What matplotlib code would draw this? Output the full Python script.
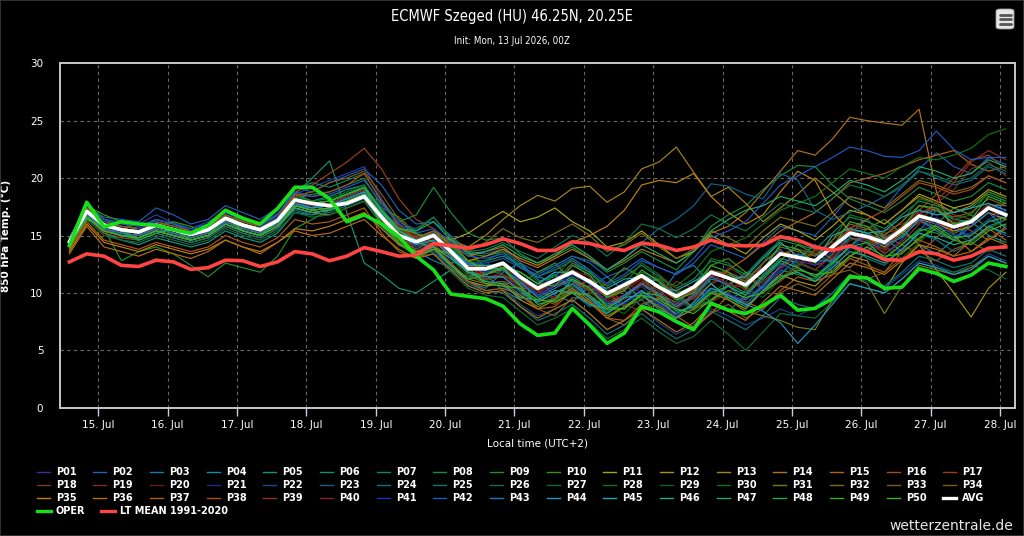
# ECMWF ensemble plume, 850 hPa temperature, Szeged
import pandas as pd
import numpy as np
import matplotlib

matplotlib.use("Agg")
import matplotlib.pyplot as plt
import matplotlib.dates as mdates
from matplotlib.lines import Line2D
from matplotlib.patches import FancyBboxPatch, Rectangle

# 6-hourly steps, local time (UTC+2)
times = pd.date_range("2026-07-14 14:00", periods=55, freq="6h")

avg = [14.45, 17.1, 15.9, 15.5, 15.3, 15.9, 15.5, 15.1, 15.5, 16.5, 15.9, 15.5, 16.3,
       18.1, 17.8, 17.6, 17.8, 18.4, 16.6, 15.0, 14.45, 15.0, 13.6, 12.1, 12.1,
       12.6, 11.4, 10.4, 11.1, 11.8, 11.0, 9.95, 10.7, 11.5, 10.5, 9.7, 10.5, 11.8, 11.3, 10.7, 12.0,
       13.4, 13.1, 12.8, 14.0, 15.2, 14.9, 14.4, 15.5, 16.7, 16.3, 15.75, 16.2, 17.4, 16.8]

oper = [14.15, 17.9, 15.75, 16.2, 16.0, 15.9, 15.5, 15.2, 15.9, 17.2, 16.5, 16.0, 17.35,
        19.2, 19.2, 18.2, 16.2, 16.8, 16.0, 14.9, 13.2, 12.0, 9.9, 9.7, 9.5,
        8.85, 7.3, 6.3, 6.5, 8.65, 7.2, 5.6, 6.5, 8.8, 8.35, 7.5, 6.8, 9.1, 8.5, 8.2, 8.9,
        9.8, 8.5, 8.65, 9.5, 11.4, 11.3, 10.4, 10.5, 12.1, 11.7, 11.0, 11.55, 12.6, 12.3]

lt_mean = [12.7, 13.4, 13.2, 12.4, 12.3, 12.85, 12.7, 12.05, 12.2, 12.85, 12.8, 12.3, 12.7,
           13.6, 13.4, 12.8, 13.2, 13.95, 13.6, 13.2, 13.3, 14.3, 14.1, 13.9, 14.2,
           14.7, 14.3, 13.7, 13.7, 14.45, 14.3, 13.9, 13.7, 14.35, 14.15, 13.7, 14.0, 14.6, 14.15, 14.1, 14.15,
           14.9, 14.6, 14.0, 13.7, 14.1, 13.6, 12.9, 12.85, 13.6, 13.4, 12.85, 13.2, 13.9, 14.0]

member_names = ["P%02d" % k for k in range(1, 51)]

members = [
    # P01
    [14.8, 17.6, 16.4, 16.2, 16.0, 16.8, 16.1, 15.6, 16.2, 17.0, 16.3, 16.0, 16.9,
     18.6, 19.2, 19.8, 20.4, 21.0, 18.2, 16.0, 14.6, 14.2, 13.0, 11.8, 11.2,
     11.6, 10.6, 10.0, 10.8, 11.2, 9.6, 8.8, 9.8, 10.6, 9.2, 8.6, 9.6, 10.4, 9.8, 9.4, 11.6,
     12.8, 12.2, 11.4, 12.6, 14.8, 14.6, 13.4, 14.6, 16.6, 16.4, 15.2, 15.8, 17.8, 17.0],
    # P02
    [14.6, 17.4, 16.6, 16.4, 16.2, 17.4, 16.8, 16.0, 16.4, 17.6, 17.0, 16.4, 17.4,
     19.2, 18.8, 19.6, 20.2, 20.8, 19.4, 17.2, 16.0, 16.2, 15.0, 13.6, 13.4,
     13.8, 12.6, 11.8, 12.4, 13.2, 12.6, 11.4, 12.0, 13.0, 12.2, 11.6, 12.6, 14.2, 13.6, 13.0, 14.4,
     15.8, 15.4, 15.0, 16.6, 18.4, 18.0, 17.4, 19.2, 20.8, 22.2, 21.0, 20.4, 21.8, 21.2],
    # P03
    [14.2, 16.8, 15.6, 15.0, 14.8, 15.6, 15.2, 14.8, 15.4, 16.4, 15.8, 15.4, 16.2,
     18.0, 17.6, 17.2, 17.8, 18.4, 17.2, 15.8, 13.6, 12.8, 12.2, 11.0, 10.4,
     11.8, 12.6, 11.2, 9.8, 9.2, 10.6, 11.4, 10.2, 8.8, 9.6, 11.8, 12.4, 10.8, 9.4, 10.2, 12.6,
     13.8, 12.2, 11.4, 12.8, 15.2, 16.4, 14.8, 13.6, 15.4, 17.2, 16.0, 14.6, 15.8, 16.4],
    # P04
    [14.4, 17.2, 16.0, 15.8, 15.6, 16.4, 16.0, 15.4, 15.8, 16.8, 16.0, 15.6, 16.6,
     18.6, 18.0, 18.4, 19.0, 19.4, 17.0, 15.2, 14.6, 15.2, 13.6, 12.4, 12.8,
     13.2, 12.4, 11.4, 11.0, 12.6, 11.8, 10.2, 10.4, 11.6, 11.0, 9.8, 10.0, 11.8, 11.8, 11.0, 12.0,
     13.4, 13.8, 13.4, 13.8, 15.2, 15.6, 14.8, 15.4, 17.0, 17.2, 16.4, 16.2, 17.6, 17.6],
    # P05
    [14.0, 16.6, 15.2, 14.6, 14.2, 14.8, 14.4, 14.0, 14.4, 15.4, 14.8, 14.4, 15.2,
     17.0, 16.8, 17.4, 18.0, 18.6, 16.2, 15.6, 14.8, 13.4, 12.6, 12.8, 11.6,
     10.2, 9.4, 10.8, 11.6, 10.4, 9.0, 8.2, 9.6, 10.8, 11.2, 9.8, 8.6, 9.4, 10.6, 11.8, 10.4,
     11.6, 13.0, 14.2, 12.8, 12.2, 13.6, 14.8, 15.6, 14.2, 13.4, 14.6, 16.2, 15.0, 14.4],
    # P06
    [13.8, 16.8, 15.8, 15.2, 15.0, 15.6, 15.2, 14.8, 15.2, 16.2, 15.6, 15.2, 16.0,
     18.6, 20.0, 21.5, 17.0, 12.6, 11.6, 10.4, 10.0, 11.0, 12.0, 11.4, 11.8,
     12.0, 10.8, 9.8, 10.6, 11.4, 10.4, 9.0, 9.8, 10.8, 9.6, 8.8, 9.6, 11.2, 10.8, 10.0, 11.6,
     13.0, 12.6, 12.0, 13.4, 14.8, 14.4, 13.8, 15.0, 16.2, 15.8, 15.2, 15.8, 17.0, 16.4],
    # P07
    [14.6, 17.8, 16.4, 15.8, 15.6, 16.2, 15.8, 15.4, 15.8, 16.8, 16.2, 15.8, 16.8,
     19.0, 19.6, 19.2, 19.8, 20.4, 18.0, 16.2, 15.4, 16.6, 14.8, 13.4, 13.2,
     13.6, 12.2, 11.4, 12.0, 12.8, 11.8, 10.6, 11.4, 12.4, 11.4, 10.4, 11.2, 12.8, 12.4, 11.6, 13.2,
     14.6, 14.2, 13.8, 15.2, 16.6, 16.2, 15.6, 16.8, 18.0, 17.6, 17.0, 17.4, 18.6, 18.0],
    # P08
    [14.2, 17.0, 15.8, 15.4, 15.2, 15.8, 15.4, 15.0, 15.4, 16.4, 15.8, 15.4, 16.2,
     18.2, 18.6, 18.8, 19.4, 20.0, 17.6, 16.2, 16.8, 19.2, 17.0, 15.2, 14.6,
     14.8, 13.4, 12.6, 13.2, 14.0, 13.0, 11.8, 12.6, 13.6, 12.8, 12.0, 13.6, 15.8, 16.8, 17.6, 19.0,
     20.2, 21.1, 21.0, 19.4, 18.2, 17.6, 17.0, 18.0, 19.2, 18.6, 18.0, 18.4, 19.6, 19.0],
    # P09
    [14.0, 17.4, 15.6, 12.8, 13.6, 14.0, 13.4, 12.4, 11.4, 12.6, 12.2, 11.8, 13.2,
     15.6, 16.4, 17.2, 18.4, 19.2, 17.2, 15.4, 14.2, 14.6, 13.2, 11.8, 11.2,
     11.4, 10.0, 9.2, 10.0, 10.6, 9.6, 8.4, 9.2, 10.2, 9.0, 8.0, 8.8, 10.2, 9.6, 9.0, 10.6,
     12.0, 11.6, 11.2, 12.6, 14.0, 13.6, 13.0, 14.2, 15.6, 15.2, 14.6, 15.2, 16.4, 15.8],
    # P10
    [14.8, 17.6, 16.8, 16.2, 15.4, 15.8, 16.2, 15.8, 15.2, 16.4, 16.6, 15.8, 16.2,
     18.4, 18.0, 17.6, 18.2, 18.8, 17.4, 16.6, 15.2, 14.0, 14.8, 13.6, 12.2,
     11.6, 10.8, 11.8, 12.6, 11.0, 10.2, 10.8, 12.2, 11.4, 9.8, 9.2, 10.6, 12.4, 13.0, 11.8, 11.2,
     12.8, 14.2, 13.4, 12.6, 14.0, 15.6, 16.4, 15.2, 14.6, 16.0, 17.4, 16.8, 15.6, 16.4],
    # P11
    [14.2, 16.8, 15.6, 15.2, 15.0, 15.6, 15.2, 14.8, 15.2, 16.2, 15.6, 15.2, 16.0,
     17.6, 17.4, 17.8, 18.4, 19.0, 17.0, 15.0, 14.4, 15.0, 14.6, 15.2, 16.2,
     17.1, 16.2, 16.6, 17.4, 16.2, 15.4, 14.0, 14.4, 15.4, 14.2, 13.0, 13.6, 15.0, 14.2, 13.4, 14.8,
     16.0, 15.4, 14.6, 15.8, 17.2, 16.8, 16.0, 17.2, 18.6, 18.0, 17.4, 17.8, 19.0, 18.4],
    # P12
    [14.0, 16.6, 15.4, 15.0, 14.8, 15.4, 15.0, 14.6, 15.0, 16.0, 15.4, 15.0, 15.8,
     17.4, 17.0, 16.8, 17.4, 18.0, 16.0, 14.2, 13.4, 13.8, 12.4, 11.0, 10.6,
     10.8, 9.4, 8.6, 9.4, 10.2, 9.2, 7.8, 8.8, 9.8, 8.8, 7.8, 8.6, 10.0, 9.4, 8.6, 10.2,
     11.6, 11.0, 10.6, 12.0, 13.2, 12.8, 10.2, 12.6, 14.2, 12.0, 10.0, 7.9, 10.4, 11.8],
    # P13
    [14.4, 17.0, 15.8, 15.4, 15.2, 15.8, 15.4, 15.0, 15.4, 16.4, 15.8, 15.4, 16.2,
     17.8, 17.4, 17.6, 18.2, 18.8, 16.8, 15.2, 14.8, 15.4, 14.6, 14.0, 15.0,
     16.4, 17.6, 18.5, 18.0, 19.1, 19.3, 17.9, 18.8, 20.8, 21.4, 22.7, 20.5, 18.4, 19.2, 17.8, 16.2,
     17.4, 18.6, 20.0, 18.8, 17.6, 16.8, 16.0, 17.2, 18.4, 17.8, 17.0, 17.6, 18.8, 18.2],
    # P14
    [14.6, 17.2, 16.0, 15.6, 15.4, 16.0, 15.6, 15.2, 15.6, 16.6, 16.0, 15.6, 16.4,
     18.0, 17.6, 17.8, 18.4, 19.0, 17.0, 15.4, 14.8, 15.4, 14.2, 13.2, 13.6,
     14.0, 12.8, 12.2, 13.0, 13.8, 13.0, 12.0, 12.8, 13.8, 13.2, 12.6, 13.6, 15.2, 15.8, 17.0, 18.8,
     20.6, 22.4, 22.0, 23.4, 25.3, 25.0, 24.8, 24.6, 26.0, 18.8, 15.0, 13.6, 14.6, 15.6],
    # P15
    [14.2, 16.8, 15.6, 15.2, 15.0, 15.6, 15.2, 14.8, 15.2, 16.2, 15.6, 15.2, 16.0,
     17.6, 17.2, 17.4, 18.0, 18.6, 16.6, 14.8, 14.0, 14.6, 13.2, 11.8, 11.6,
     12.0, 10.6, 9.8, 10.6, 11.2, 10.2, 8.8, 9.8, 10.8, 9.8, 8.8, 9.8, 11.4, 12.0, 13.0, 14.2,
     15.4, 16.2, 17.0, 18.2, 19.6, 20.0, 20.4, 21.0, 21.6, 22.0, 22.4, 21.2, 20.6, 21.0],
    # P16
    [14.0, 16.6, 15.2, 14.8, 14.6, 15.2, 14.8, 14.4, 14.8, 15.8, 15.2, 14.8, 15.6,
     17.4, 17.0, 17.2, 17.8, 18.4, 16.8, 15.2, 14.6, 15.4, 14.0, 12.4, 11.6,
     12.2, 11.0, 9.6, 9.0, 10.4, 11.2, 10.0, 8.8, 9.4, 10.8, 10.2, 8.6, 9.2, 10.8, 11.6, 10.2,
     11.0, 12.4, 13.8, 13.0, 12.2, 13.6, 15.0, 14.2, 13.4, 14.8, 16.2, 15.4, 14.6, 15.8],
    # P17
    [14.4, 17.0, 15.8, 15.4, 15.2, 15.8, 15.4, 15.0, 15.4, 16.4, 15.8, 15.4, 16.2,
     18.8, 19.4, 20.4, 21.4, 22.6, 20.8, 18.2, 16.4, 15.6, 14.4, 12.8, 12.2,
     12.6, 11.2, 10.4, 11.0, 11.8, 10.8, 9.6, 10.4, 11.4, 10.4, 9.4, 10.2, 11.8, 11.4, 10.6, 12.2,
     13.6, 13.2, 12.8, 14.2, 15.6, 15.2, 14.6, 15.8, 17.2, 18.6, 20.0, 21.6, 22.0, 20.8],
    # P18
    [14.8, 17.4, 16.2, 15.8, 15.6, 16.2, 15.8, 15.4, 15.8, 16.8, 16.2, 15.8, 16.6,
     18.2, 17.8, 18.0, 18.6, 19.2, 17.2, 15.6, 14.8, 15.2, 14.0, 12.6, 12.4,
     12.4, 11.8, 10.8, 11.0, 12.6, 11.4, 9.6, 10.2, 11.8, 11.2, 9.8, 10.0, 11.6, 11.8, 11.2, 12.0,
     13.4, 13.8, 13.4, 14.0, 15.4, 15.8, 15.2, 15.6, 17.0, 17.4, 16.8, 16.4, 17.6, 17.8],
    # P19
    [14.2, 16.6, 15.4, 15.0, 14.8, 15.4, 15.0, 14.6, 15.0, 16.0, 15.4, 15.0, 15.8,
     17.6, 17.2, 17.4, 18.0, 18.6, 17.0, 16.0, 14.4, 13.8, 13.2, 12.6, 11.0,
     10.6, 11.4, 10.2, 9.4, 10.0, 11.2, 10.6, 9.0, 8.4, 9.6, 11.0, 10.4, 9.2, 10.0, 11.4, 12.2,
     11.4, 12.2, 13.6, 14.4, 13.2, 14.0, 15.4, 16.0, 16.8, 17.8, 19.0, 20.8, 21.4, 20.2],
    # P20
    [14.6, 17.2, 16.0, 15.6, 15.4, 16.0, 15.6, 15.2, 15.6, 16.6, 16.0, 15.6, 16.4,
     18.0, 17.6, 17.8, 18.4, 19.0, 16.4, 14.6, 14.0, 14.8, 13.8, 12.6, 12.0,
     12.6, 11.4, 10.2, 10.6, 12.0, 11.4, 9.8, 9.4, 10.6, 11.6, 10.4, 9.4, 10.8, 12.2, 11.4, 10.8,
     12.2, 13.4, 12.8, 14.6, 15.8, 14.6, 13.8, 15.6, 17.0, 16.2, 15.2, 16.4, 17.8, 16.6],
    # P21
    [14.4, 16.8, 15.4, 15.8, 15.0, 15.4, 15.8, 15.2, 15.0, 16.2, 16.0, 15.2, 15.8,
     17.8, 17.4, 17.6, 18.2, 18.8, 17.6, 16.2, 15.6, 14.0, 12.8, 12.4, 12.8,
     11.4, 10.0, 10.8, 11.8, 10.6, 9.4, 9.8, 11.0, 10.0, 8.8, 9.2, 10.4, 11.6, 10.6, 9.4, 10.8,
     12.0, 13.4, 12.6, 12.0, 13.8, 15.0, 14.0, 13.6, 15.2, 16.6, 15.6, 15.0, 16.2, 16.8],
    # P22
    [14.2, 16.8, 15.6, 15.2, 15.0, 15.6, 15.2, 14.8, 15.2, 16.2, 15.6, 15.2, 16.0,
     17.6, 17.2, 17.4, 18.0, 18.6, 16.2, 14.4, 13.4, 13.6, 12.0, 10.6, 10.2,
     10.4, 9.0, 8.0, 8.6, 9.4, 8.2, 6.8, 7.6, 8.6, 7.4, 6.4, 7.2, 8.6, 8.0, 7.2, 7.8,
     8.6, 8.0, 8.8, 10.0, 11.4, 11.0, 10.4, 11.6, 12.8, 12.4, 11.8, 12.2, 13.4, 12.8],
    # P23
    [14.6, 17.2, 16.0, 15.6, 15.4, 16.0, 15.6, 15.2, 15.6, 16.6, 16.0, 15.6, 16.4,
     18.2, 17.8, 18.0, 18.6, 19.2, 17.2, 15.4, 14.6, 15.0, 13.8, 12.6, 12.6,
     13.0, 12.2, 11.6, 12.4, 13.2, 12.8, 12.0, 13.0, 14.4, 15.6, 16.4, 17.6, 19.5, 19.3, 18.6, 18.2,
     20.4, 19.8, 17.2, 16.4, 17.0, 17.6, 18.4, 19.2, 20.6, 20.0, 19.4, 19.8, 21.0, 20.4],
    # P24
    [14.2, 16.8, 15.4, 15.0, 14.6, 15.2, 14.8, 14.4, 14.8, 15.8, 15.2, 14.8, 15.6,
     17.4, 17.0, 17.2, 17.8, 18.4, 15.8, 14.2, 13.6, 14.4, 13.6, 12.0, 10.8,
     10.6, 9.6, 10.4, 11.6, 10.0, 8.8, 9.6, 10.8, 9.4, 8.2, 9.0, 10.6, 9.2, 8.4, 9.8, 11.2,
     12.6, 11.8, 11.0, 12.4, 14.2, 13.0, 12.4, 13.8, 15.2, 14.6, 13.6, 14.4, 15.8, 15.0],
    # P25
    [14.0, 16.6, 15.4, 15.0, 14.8, 15.4, 15.0, 14.6, 15.0, 16.0, 15.4, 15.0, 15.8,
     17.2, 16.8, 17.0, 17.6, 18.2, 16.2, 14.4, 13.4, 13.8, 12.2, 10.8, 10.2,
     10.0, 8.8, 7.6, 8.2, 9.0, 7.8, 6.4, 7.2, 8.2, 7.0, 6.0, 6.8, 8.4, 7.6, 6.8, 8.0,
     9.6, 9.0, 8.6, 10.0, 11.6, 11.2, 10.6, 11.8, 13.2, 12.8, 12.2, 12.6, 13.8, 13.2],
    # P26
    [14.4, 17.0, 15.8, 15.4, 15.2, 15.8, 15.4, 15.0, 15.4, 16.4, 15.8, 15.4, 16.2,
     17.8, 17.6, 17.8, 18.4, 19.0, 17.0, 15.4, 15.6, 16.6, 14.8, 13.6, 13.8,
     14.4, 13.6, 13.0, 14.0, 15.0, 14.4, 13.2, 14.4, 16.0, 15.6, 14.8, 15.6, 16.8, 16.0, 15.4, 16.6,
     17.8, 17.4, 17.0, 18.2, 19.4, 19.0, 18.4, 19.4, 20.6, 20.2, 19.6, 20.0, 21.2, 20.6],
    # P27
    [13.8, 16.4, 15.0, 14.6, 14.4, 15.0, 14.6, 14.2, 14.6, 15.6, 15.0, 14.6, 15.4,
     17.0, 16.6, 16.8, 17.4, 18.0, 16.0, 14.2, 13.2, 13.4, 11.8, 10.4, 9.8,
     9.6, 8.4, 7.2, 7.8, 8.6, 7.4, 6.0, 6.8, 7.8, 6.6, 5.6, 6.2, 7.6, 6.4, 5.0, 6.6,
     8.2, 8.0, 7.8, 9.2, 10.8, 10.4, 10.0, 11.2, 12.6, 12.2, 11.8, 12.4, 12.0, 11.2],
    # P28
    [14.6, 17.4, 16.2, 15.8, 15.6, 16.2, 15.8, 15.4, 15.8, 16.8, 16.2, 15.8, 16.6,
     18.4, 18.0, 18.2, 18.8, 19.4, 17.4, 15.6, 14.8, 15.2, 14.0, 12.8, 12.8,
     13.6, 12.4, 11.0, 11.4, 13.0, 12.0, 10.0, 10.8, 12.6, 11.6, 10.0, 10.6, 13.0, 12.6, 11.2, 12.6,
     14.8, 14.4, 13.2, 14.6, 16.8, 16.4, 15.0, 16.2, 18.2, 17.8, 16.4, 16.8, 18.8, 18.2],
    # P29
    [14.2, 16.8, 15.6, 15.2, 15.0, 15.6, 15.2, 14.8, 15.2, 16.2, 15.6, 15.2, 16.0,
     17.6, 17.4, 17.6, 18.2, 18.8, 16.2, 15.4, 14.8, 14.0, 13.0, 11.4, 11.0,
     12.0, 11.2, 9.8, 9.2, 10.6, 10.2, 8.8, 8.2, 9.6, 10.8, 9.6, 8.4, 9.8, 11.2, 10.4, 9.6,
     11.2, 12.6, 12.0, 11.6, 13.2, 14.6, 14.0, 13.0, 14.4, 15.8, 15.2, 14.4, 15.6, 16.4],
    # P30
    [14.4, 17.0, 15.8, 15.4, 15.2, 15.8, 15.4, 15.0, 15.4, 16.4, 15.8, 15.4, 16.2,
     18.0, 17.8, 18.0, 18.6, 19.2, 17.2, 15.4, 14.6, 15.0, 13.6, 12.2, 12.0,
     12.4, 11.2, 10.2, 11.0, 11.8, 10.8, 9.6, 10.6, 11.8, 11.2, 10.6, 11.8, 13.6, 14.2, 14.8, 16.0,
     17.2, 17.8, 18.4, 19.6, 20.8, 20.4, 20.0, 21.0, 21.8, 21.6, 22.0, 22.6, 23.8, 24.3],
    # P31
    [14.0, 16.6, 15.4, 15.0, 14.8, 15.4, 15.0, 14.6, 15.0, 16.0, 15.4, 15.0, 15.8,
     17.4, 17.0, 17.2, 17.8, 18.4, 16.4, 14.6, 13.6, 14.0, 12.6, 11.2, 10.8,
     11.0, 9.8, 8.8, 9.6, 10.4, 9.4, 8.0, 8.8, 9.8, 8.8, 7.8, 8.6, 10.0, 9.4, 8.4, 8.0,
     7.6, 7.0, 6.8, 9.4, 11.6, 10.8, 8.2, 10.6, 12.4, 12.0, 11.6, 12.2, 13.2, 12.6],
    # P32
    [14.6, 17.2, 16.0, 15.6, 15.4, 16.0, 15.6, 15.2, 15.6, 16.6, 16.0, 15.6, 16.4,
     18.2, 17.8, 18.0, 18.6, 19.2, 17.2, 15.4, 14.8, 15.2, 14.4, 13.6, 14.4,
     15.6, 14.8, 14.4, 15.2, 16.0, 15.0, 13.6, 14.2, 15.2, 14.0, 13.0, 13.8, 15.4, 14.8, 14.0, 15.4,
     16.6, 16.2, 15.8, 17.0, 18.4, 18.0, 17.4, 18.6, 19.8, 19.4, 18.8, 19.2, 20.2, 19.6],
    # P33
    [14.2, 16.8, 15.6, 15.2, 15.0, 15.6, 15.2, 14.8, 15.2, 16.2, 15.6, 15.2, 16.0,
     17.6, 17.2, 17.4, 18.0, 18.6, 16.4, 14.6, 13.8, 14.6, 13.4, 11.6, 10.8,
     11.0, 10.4, 8.6, 8.0, 9.6, 9.4, 7.8, 7.2, 8.6, 9.0, 7.6, 6.8, 8.2, 9.0, 7.8, 8.6,
     10.0, 10.8, 10.2, 11.6, 12.0, 11.2, 11.8, 13.0, 13.6, 12.8, 13.8, 14.4, 13.6, 14.2],
    # P34
    [14.6, 17.2, 16.0, 15.6, 15.4, 16.0, 15.6, 15.2, 15.6, 16.6, 16.0, 15.6, 16.4,
     18.4, 18.8, 19.6, 20.0, 20.6, 18.6, 16.4, 15.0, 15.2, 13.8, 12.4, 12.2,
     12.6, 11.4, 10.4, 11.2, 12.0, 11.0, 9.8, 10.6, 11.6, 10.6, 9.6, 10.4, 12.0, 11.6, 11.0, 12.6,
     14.0, 13.6, 13.2, 14.6, 16.0, 15.6, 15.0, 16.2, 17.6, 17.2, 16.6, 17.0, 18.2, 17.6],
    # P35
    [13.6, 16.0, 14.4, 14.0, 13.6, 14.2, 13.8, 13.4, 13.8, 14.6, 14.0, 13.6, 14.4,
     15.6, 15.4, 15.8, 16.4, 17.0, 15.6, 14.2, 13.6, 14.0, 13.4, 12.8, 13.2,
     13.8, 13.0, 12.4, 13.2, 14.4, 15.0, 15.8, 17.2, 19.4, 19.8, 19.6, 20.4, 18.4, 17.0, 16.0, 16.8,
     18.8, 20.6, 19.8, 17.0, 15.4, 14.8, 14.0, 15.2, 16.4, 16.0, 15.4, 15.8, 17.0, 16.4],
    # P36
    [13.4, 15.8, 14.0, 13.6, 13.2, 13.8, 13.4, 13.0, 13.6, 14.6, 14.0, 13.4, 14.4,
     15.4, 15.0, 15.2, 15.8, 16.4, 15.0, 13.8, 13.0, 13.4, 12.0, 10.6, 10.0,
     10.2, 8.8, 7.8, 8.6, 9.4, 8.2, 6.8, 7.6, 8.6, 7.6, 6.6, 7.4, 9.0, 8.4, 7.6, 9.2,
     10.6, 10.2, 9.8, 11.2, 12.6, 12.2, 11.6, 12.8, 14.2, 13.8, 13.2, 13.6, 14.8, 14.2],
    # P37
    [13.8, 16.2, 14.6, 14.2, 13.8, 14.4, 14.0, 13.6, 14.0, 15.0, 14.4, 14.0, 14.8,
     16.4, 16.0, 16.2, 16.8, 17.4, 15.2, 13.6, 13.0, 13.8, 12.6, 11.0, 10.2,
     10.4, 9.8, 8.6, 8.8, 10.2, 9.2, 7.8, 7.6, 9.0, 9.6, 8.0, 7.0, 8.2, 9.8, 9.2, 8.6,
     10.2, 11.4, 11.0, 11.6, 13.0, 12.4, 11.8, 13.6, 14.6, 14.0, 13.2, 14.6, 15.6, 14.6],
    # P38
    [14.8, 17.4, 16.2, 15.8, 15.6, 16.2, 15.8, 15.4, 15.8, 16.8, 16.2, 15.8, 16.6,
     18.6, 18.4, 18.8, 19.4, 20.4, 18.0, 15.8, 14.8, 15.0, 13.6, 12.2, 12.0,
     12.4, 11.2, 10.2, 11.0, 11.8, 10.8, 9.6, 10.4, 11.4, 10.4, 9.4, 10.2, 11.8, 11.2, 10.6, 12.2,
     13.6, 13.2, 12.8, 14.2, 15.6, 16.4, 17.2, 18.4, 19.6, 19.2, 18.6, 19.0, 20.2, 19.6],
    # P39
    [14.2, 16.8, 15.6, 15.2, 15.0, 15.6, 15.2, 14.8, 15.2, 16.2, 15.6, 15.2, 16.0,
     17.8, 17.4, 17.6, 18.2, 18.8, 17.2, 15.6, 14.8, 14.2, 13.8, 12.4, 11.2,
     11.4, 11.0, 10.2, 9.6, 10.8, 10.6, 9.2, 9.8, 11.0, 10.2, 9.0, 9.6, 10.8, 11.4, 10.2, 11.0,
     12.2, 13.2, 12.4, 13.0, 14.6, 14.8, 13.4, 14.4, 16.0, 18.0, 19.6, 21.4, 22.4, 21.6],
    # P40
    [14.6, 17.2, 16.0, 15.6, 15.4, 16.0, 15.6, 15.2, 15.6, 16.6, 16.0, 15.6, 16.4,
     18.0, 17.6, 17.8, 18.4, 19.0, 16.6, 15.8, 15.0, 14.2, 13.2, 12.6, 11.4,
     11.6, 10.4, 10.6, 11.2, 11.8, 10.0, 9.4, 10.2, 11.2, 9.4, 8.6, 10.0, 11.6, 10.8, 10.4, 12.0,
     13.6, 12.8, 12.0, 13.2, 15.4, 14.2, 13.6, 15.6, 16.2, 15.6, 16.4, 15.8, 17.0, 16.8],
    # P41
    [14.4, 17.0, 16.2, 15.0, 15.6, 16.2, 15.0, 15.4, 15.8, 16.0, 15.4, 15.8, 16.6,
     17.8, 17.4, 17.6, 18.2, 18.8, 17.0, 15.4, 14.0, 14.6, 13.4, 12.2, 11.8,
     12.6, 11.0, 9.8, 10.6, 11.6, 10.8, 9.2, 9.0, 10.2, 9.0, 8.0, 8.8, 10.4, 10.0, 9.0, 10.4,
     11.8, 12.8, 12.4, 13.6, 14.2, 13.8, 14.4, 15.6, 16.6, 16.0, 15.0, 15.2, 16.4, 17.2],
    # P42
    [14.8, 17.6, 16.4, 16.0, 15.8, 16.4, 16.0, 15.6, 16.0, 17.0, 16.4, 16.0, 16.8,
     18.8, 18.4, 18.6, 19.2, 19.8, 17.8, 16.0, 15.2, 15.6, 14.4, 13.2, 13.0,
     13.4, 12.2, 11.4, 12.2, 13.0, 12.0, 10.8, 11.6, 12.8, 12.2, 11.6, 13.0, 14.8, 15.4, 16.2, 17.8,
     19.4, 20.2, 21.0, 21.8, 22.7, 22.4, 21.9, 21.8, 22.4, 24.1, 22.5, 21.6, 21.8, 21.8],
    # P43
    [14.2, 16.8, 15.6, 15.2, 15.0, 15.6, 15.2, 14.8, 15.2, 16.2, 15.6, 15.2, 16.0,
     17.6, 17.4, 17.6, 18.2, 18.8, 16.0, 14.8, 14.6, 15.2, 13.8, 12.6, 12.2,
     12.0, 11.0, 9.6, 10.4, 11.2, 9.6, 8.6, 9.8, 10.8, 10.0, 8.8, 9.8, 11.4, 10.6, 9.4, 10.6,
     12.4, 13.4, 12.8, 12.8, 14.0, 15.2, 14.2, 14.8, 16.4, 15.4, 14.6, 15.8, 17.0, 15.6],
    # P44
    [14.4, 17.0, 15.8, 15.4, 15.2, 15.8, 15.4, 15.0, 15.4, 16.4, 15.8, 15.4, 16.2,
     17.8, 17.4, 17.6, 18.2, 18.8, 16.8, 15.0, 14.2, 14.6, 13.2, 11.8, 11.4,
     11.4, 10.2, 9.2, 10.0, 10.8, 9.6, 8.2, 9.2, 10.2, 9.2, 8.2, 9.0, 10.4, 9.8, 9.0, 8.4,
     7.4, 5.6, 7.2, 9.0, 10.8, 10.4, 10.0, 11.2, 12.6, 12.2, 11.6, 12.0, 13.2, 12.6],
    # P45
    [14.6, 17.2, 16.0, 15.6, 15.4, 16.0, 15.6, 15.2, 15.6, 16.6, 16.0, 15.6, 16.4,
     18.2, 17.8, 18.0, 18.6, 19.2, 17.2, 15.4, 14.6, 15.0, 13.8, 12.4, 12.4,
     12.4, 11.8, 10.8, 11.8, 11.8, 10.8, 10.4, 11.2, 11.4, 10.4, 10.2, 11.0, 11.8, 11.2, 11.4, 13.0,
     14.4, 13.2, 12.8, 15.0, 15.6, 15.2, 15.4, 16.6, 17.2, 16.8, 17.0, 17.4, 17.8, 17.2],
    # P46
    [14.0, 16.6, 15.4, 15.0, 14.8, 15.4, 15.0, 14.6, 15.0, 16.0, 15.4, 15.0, 15.8,
     17.4, 17.0, 17.2, 17.8, 18.4, 16.8, 14.8, 13.4, 14.0, 13.0, 11.8, 11.0,
     10.8, 9.6, 9.4, 10.2, 10.0, 9.0, 8.6, 9.6, 9.8, 8.6, 7.8, 9.2, 10.8, 9.6, 8.8, 10.2,
     11.4, 11.8, 11.0, 12.2, 13.6, 13.2, 12.6, 13.8, 15.2, 14.8, 14.2, 14.6, 15.8, 15.2],
    # P47
    [14.4, 17.0, 15.8, 15.4, 15.2, 15.8, 15.4, 15.0, 15.4, 16.4, 15.8, 15.4, 16.2,
     18.0, 17.8, 18.0, 18.6, 19.2, 17.2, 15.6, 15.4, 16.2, 14.6, 13.4, 13.6,
     14.2, 13.2, 12.6, 13.4, 14.2, 13.2, 12.0, 13.0, 14.2, 13.4, 12.6, 13.6, 15.4, 16.4, 17.2, 17.6,
     18.4, 18.0, 17.6, 18.6, 19.8, 19.4, 18.8, 19.8, 21.0, 20.6, 20.0, 20.4, 21.6, 21.0],
    # P48
    [14.2, 16.4, 15.8, 15.4, 14.6, 15.2, 15.6, 14.6, 15.0, 16.6, 15.4, 15.0, 16.2,
     17.6, 17.2, 17.4, 18.0, 18.6, 17.0, 15.4, 14.4, 14.0, 12.4, 11.2, 11.6,
     12.2, 10.6, 9.0, 9.4, 11.2, 10.4, 8.8, 8.6, 10.0, 9.8, 8.4, 8.8, 10.0, 10.6, 9.8, 11.4,
     12.8, 12.2, 11.4, 12.6, 14.0, 14.4, 13.0, 14.2, 15.4, 15.8, 14.8, 15.0, 16.2, 16.6],
    # P49
    [14.6, 17.2, 16.0, 15.6, 15.4, 16.0, 15.6, 15.2, 15.6, 16.6, 16.0, 15.6, 16.4,
     18.2, 17.8, 18.0, 18.6, 19.2, 16.4, 15.6, 15.2, 14.4, 14.2, 12.8, 12.0,
     12.2, 11.8, 10.8, 10.6, 12.4, 11.6, 9.6, 10.2, 12.0, 11.0, 9.4, 10.0, 12.4, 11.8, 10.4, 12.0,
     14.2, 13.8, 12.6, 14.0, 16.2, 15.8, 14.4, 15.6, 17.6, 17.4, 16.0, 16.4, 18.4, 17.8],
    # P50
    [14.0, 16.6, 15.4, 15.0, 14.8, 15.4, 15.0, 14.6, 15.0, 16.0, 15.4, 15.0, 15.8,
     17.6, 17.2, 17.4, 18.0, 18.6, 16.0, 14.4, 13.2, 13.8, 13.4, 12.2, 10.8,
     10.6, 10.4, 9.4, 9.2, 10.0, 9.8, 8.6, 8.6, 9.8, 9.4, 8.6, 8.2, 9.4, 10.2, 9.6, 10.0,
     11.2, 12.0, 11.6, 11.8, 13.2, 14.0, 13.2, 13.4, 14.8, 15.6, 14.6, 14.2, 15.4, 16.0],
]

member_colors = [
    "#2b3a9e", "#1f5fb4", "#1a78b0", "#108ea0", "#0f9688", "#12946a", "#138a55", "#1a8a3c", "#1f9126", "#3a9414",
    "#a5a514", "#a59414", "#a5841a", "#b0741a", "#b0621a", "#9a501a", "#9a3f1a", "#7a3a1e", "#7a2e24", "#6a1e1e",
    "#24248a", "#1a4488", "#14628a", "#127480", "#107474", "#10744a", "#106a36", "#107420", "#0e6414", "#107414",
    "#7a7a14", "#7a6e14", "#7a5e1a", "#885a1a", "#c0820f", "#b46e10", "#b05a18", "#b04a1e", "#962e1c", "#862020",
    "#2030b4", "#2058c0", "#2076c0", "#2096c0", "#20a8b4", "#20a88c", "#20a86a", "#22ae48", "#28b02a", "#40b018",
]

W, H = 1024, 536
fig = plt.figure(figsize=(W / 100, H / 100), dpi=100, facecolor="black")


def fx(px):
    return px / W


def fy(py):
    return 1 - py / H


ax = fig.add_axes([fx(60), fy(407.7), fx(1015 - 60), (407.7 - 63.3) / H])
ax.set_facecolor("black")

for vals, col in zip(members, member_colors):
    ax.plot(times, vals, color=col, lw=0.85, zorder=2)
ax.plot(times, avg, color="white", lw=2.6, zorder=3)
ax.plot(times, oper, color="#18e018", lw=2.6, zorder=4)
ax.plot(times, lt_mean, color="#ff4444", lw=2.6, zorder=5)

ax.set_ylim(0, 30)
ax.set_yticks([0, 5, 10, 15, 20, 25, 30])
ax.set_xlim(pd.Timestamp("2026-07-14 10:45"), pd.Timestamp("2026-07-28 05:10"))
ax.xaxis.set_major_locator(mdates.DayLocator())
ax.xaxis.set_major_formatter(mdates.DateFormatter("%d. %b"))

ax.grid(True, color="#6a6a6a", lw=0.8, linestyle=(0, (3, 3)))
ax.set_axisbelow(True)
for s in ax.spines.values():
    s.set_color("#c8c8c8")
    s.set_linewidth(1.4)
ax.tick_params(axis="x", colors="#c8d0e0", length=6, width=1, labelcolor="white", labelsize=7.5, pad=3)
ax.tick_params(axis="y", length=0, labelcolor="white", labelsize=7.5, pad=12)

ax.set_ylabel("850 hPa Temp. (°C)", color="white", fontsize=7.5, fontweight="bold", labelpad=14)
ax.set_xlabel("Local time (UTC+2)", color="white", fontsize=7.5, labelpad=6)

fig.text(0.5, fy(17), "ECMWF Szeged (HU) 46.25N, 20.25E", color="white",
         fontsize=10.5, ha="center", va="center", fontstretch="condensed")
fig.text(0.5, fy(41), "Init: Mon, 13 Jul 2026, 00Z", color="white",
         fontsize=7, ha="center", va="center", fontstretch="condensed")

# legend drawn row by row
col_w = 56.67
for k, (name, col) in enumerate(zip(member_names, member_colors)):
    r, c = divmod(k, 17)
    x0 = 36.7 + c * col_w
    y0 = 471.7 + r * 13.1
    fig.add_artist(Line2D([fx(x0), fx(x0 + 13)], [fy(y0), fy(y0)], color=col, lw=1.0))
    fig.text(fx(x0 + 19), fy(y0), name, color="white", fontsize=7, fontweight="bold", va="center")

x0 = 36.7 + 16 * col_w
fig.add_artist(Line2D([fx(x0), fx(x0 + 13)], [fy(497.9), fy(497.9)], color="white", lw=2.4))
fig.text(fx(x0 + 19), fy(497.9), "AVG", color="white", fontsize=7, fontweight="bold", va="center")

fig.add_artist(Line2D([fx(36.7), fx(50.5)], [fy(511), fy(511)], color="#18e018", lw=2.4))
fig.text(fx(55.7), fy(511), "OPER", color="white", fontsize=7, fontweight="bold", va="center")
fig.add_artist(Line2D([fx(101), fx(115)], [fy(511), fy(511)], color="#ff4444", lw=2.4))
fig.text(fx(120), fy(511), "LT MEAN 1991-2020", color="white", fontsize=7, fontweight="bold", va="center")

fig.text(fx(1013), fy(526), "wetterzentrale.de", color="#e8e8e8", fontsize=10, ha="right", va="center")

# menu button
fig.add_artist(FancyBboxPatch((fx(996), fy(29)), fx(18), 20 / H,
                              boxstyle="round,pad=0,rounding_size=0.004",
                              facecolor="#e6e6e6", edgecolor="#999999", lw=0.6))
for yy in (14.5, 19.0, 23.5):
    fig.add_artist(Line2D([fx(999.5), fx(1010.5)], [fy(yy), fy(yy)], color="#555555", lw=2.0,
                          solid_capstyle="round"))

fig.add_artist(Rectangle((0, 0), 1, 1, fill=False, edgecolor="#3a3a3a", lw=1.2))

fig.savefig("out.png", dpi=100, facecolor="black")
